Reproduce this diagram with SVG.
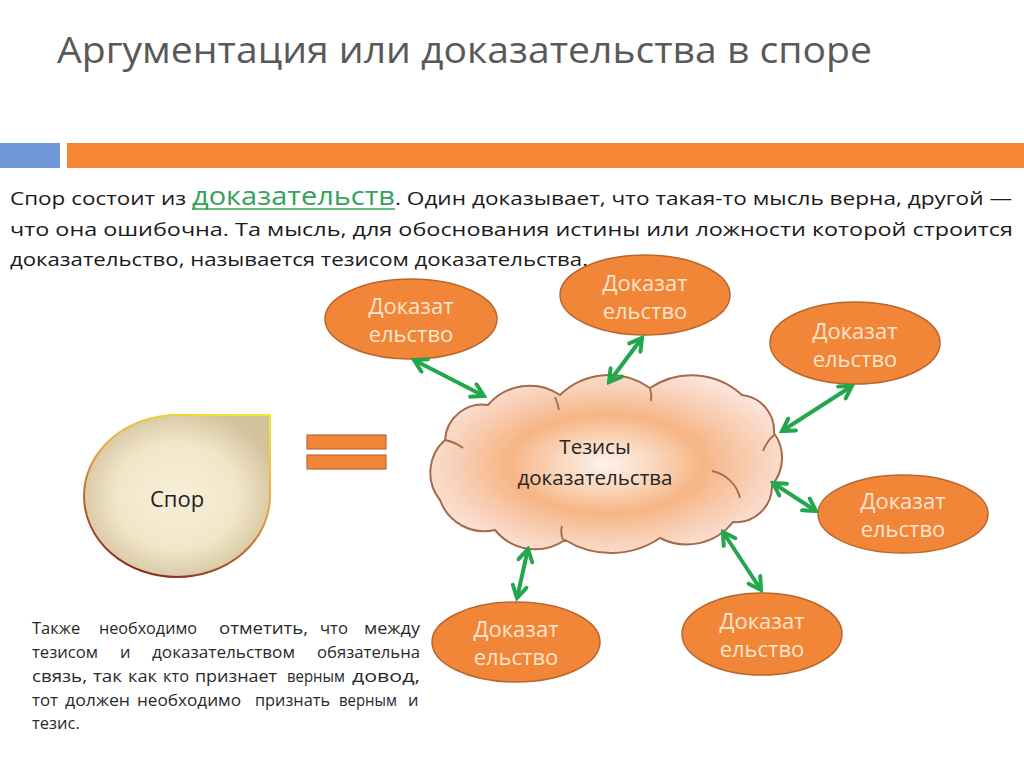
<svg xmlns="http://www.w3.org/2000/svg" width="1024" height="768" viewBox="0 0 1024 768">
<defs>
<style>
.t{font-family:"Open Sans","Liberation Sans",sans-serif}
.ell{fill:#f28638;stroke:#b9652f;stroke-width:1.5}
.elt{font-family:"Open Sans","Liberation Sans",sans-serif;font-size:22px;fill:#fde5d0;text-anchor:middle}
.arr{stroke:#22a74c;stroke-width:4;fill:none;marker-start:url(#ah);marker-end:url(#ah)}
.para{font-family:"Open Sans","Liberation Sans",sans-serif;font-size:19px;fill:#1a1a1a}
.low{font-family:"Open Sans","Liberation Sans",sans-serif;font-size:16.5px;fill:#2a2a2a}
.eq{fill:#f28638;stroke:#b86a3a;stroke-width:1.2}
.curl{fill:none;stroke:#a5694c;stroke-width:1.8}
</style>
<marker id="ah" markerUnits="userSpaceOnUse" markerWidth="18" markerHeight="18" viewBox="0 0 18 18" refX="15" refY="9" orient="auto-start-reverse">
<path d="M3,2 L15,9 L3,16" fill="none" stroke="#22a74c" stroke-width="4" stroke-linecap="round" stroke-linejoin="miter"/>
</marker>
<radialGradient id="drop" cx="0.5" cy="0.5" r="0.55">
<stop offset="0" stop-color="#f8efd8"/>
<stop offset="0.6" stop-color="#f2e6c8"/>
<stop offset="1" stop-color="#d2c39d"/>
</radialGradient>
<linearGradient id="dropStroke" x1="0.8" y1="0" x2="0.4" y2="1">
<stop offset="0" stop-color="#f2e23c"/>
<stop offset="0.45" stop-color="#e8a040"/>
<stop offset="1" stop-color="#8a2a20"/>
</linearGradient>
<radialGradient id="cloud" cx="0.5" cy="0.5" r="0.55">
<stop offset="0" stop-color="#fdf2ee"/>
<stop offset="0.25" stop-color="#fad7bd"/>
<stop offset="0.5" stop-color="#f6b584"/>
<stop offset="0.75" stop-color="#f8cdb2"/>
<stop offset="1" stop-color="#fbe4da"/>
</radialGradient>
</defs>
<rect width="1024" height="768" fill="#ffffff"/>

<g id="title">
<text class="t" x="57" y="63" font-size="36" fill="#595959" textLength="815" lengthAdjust="spacingAndGlyphs">Аргументация или доказательства в споре</text>
</g>
<g id="bars">
<rect x="0" y="143" width="60" height="25" fill="#6f96d6"/>
<rect x="67" y="143" width="957" height="25" fill="#f58634"/>
</g>

<g id="paragraph">
<text class="para" x="10" y="205" textLength="176" lengthAdjust="spacingAndGlyphs">Спор состоит из</text>
<text x="192" y="205" font-family="Open Sans, Liberation Sans, sans-serif" font-size="25" fill="#36a15b" textLength="203" lengthAdjust="spacingAndGlyphs">доказательств</text>
<line x1="192" y1="209" x2="395" y2="209" stroke="#36a15b" stroke-width="1.5"/>
<text class="para" x="395" y="205" textLength="617" lengthAdjust="spacingAndGlyphs">. Один доказывает, что такая-то мысль верна, другой —</text>
<text class="para" x="10" y="236" textLength="1003" lengthAdjust="spacingAndGlyphs">что она ошибочна. Та мысль, для обоснования истины или ложности которой строится</text>
<text class="para" x="10" y="266" textLength="578" lengthAdjust="spacingAndGlyphs">доказательство, называется тезисом доказательства.</text>
</g>

<g id="spor">
<path d="M270,415 L270,496 A93,81 0 1 1 177,415 Z" fill="url(#drop)" stroke="url(#dropStroke)" stroke-width="2"/>
<text class="t" x="177" y="507" font-size="22" fill="#1e1e1e" text-anchor="middle">Спор</text>
</g>

<g id="equals">
<rect class="eq" x="307" y="435" width="79" height="14"/>
<rect class="eq" x="307" y="455" width="79" height="14"/>
</g>

<g id="thesis">
<path d="M440,500 A43.5,43.5 0 0 1 445,440 A37.5,37.5 0 0 1 488,405 A54.6,54.6 0 0 1 560,395 A71,71 0 0 1 650,388 A74,74 0 0 1 742,395 A36,36 0 0 1 774,433 A42,42 0 0 1 772,485 A36,36 0 0 1 733,522 A58.6,58.6 0 0 1 660,538 A87.6,87.6 0 0 1 565,540 A52,52 0 0 1 495,530 A47,47 0 0 1 440,500 Z" fill="url(#cloud)" stroke="#a5694c" stroke-width="2"/>
<path class="curl" d="M712,471 A36,36 0 0 1 740,498"/>
<path class="curl" d="M763,451 Q 767,441 774,435"/>
<path class="curl" d="M555,397 Q 558,404 559,410"/>
<path class="curl" d="M650,388 Q 652,395 651,401"/>
<path class="curl" d="M445,440 Q 455,442 463,448"/>
<path class="curl" d="M563,540 Q 560,532 562,526"/>
<text class="t" x="595" y="454" font-size="20.5" fill="#262626" text-anchor="middle">Тезисы</text>
<text class="t" x="595" y="485" font-size="20.5" fill="#262626" text-anchor="middle">доказательства</text>
</g>

<g id="proof1">
<ellipse class="ell" cx="411" cy="319" rx="86" ry="40"/>
<text class="elt" x="411" y="314">Доказат</text>
<text class="elt" x="411" y="342">ельство</text>
</g>
<g id="proof2">
<ellipse class="ell" cx="645" cy="295" rx="85" ry="40"/>
<text class="elt" x="645" y="291">Доказат</text>
<text class="elt" x="645" y="319">ельство</text>
</g>
<g id="proof3">
<ellipse class="ell" cx="855" cy="343" rx="85" ry="41"/>
<text class="elt" x="855" y="339">Доказат</text>
<text class="elt" x="855" y="367">ельство</text>
</g>
<g id="proof4">
<ellipse class="ell" cx="903" cy="514" rx="85" ry="39"/>
<text class="elt" x="903" y="509">Доказат</text>
<text class="elt" x="903" y="537">ельство</text>
</g>
<g id="proof5">
<ellipse class="ell" cx="516" cy="642" rx="84" ry="40"/>
<text class="elt" x="516" y="637">Доказат</text>
<text class="elt" x="516" y="665">ельство</text>
</g>
<g id="proof6">
<ellipse class="ell" cx="762" cy="634" rx="80" ry="41"/>
<text class="elt" x="762" y="629">Доказат</text>
<text class="elt" x="762" y="657">ельство</text>
</g>

<g id="connectors">
<line class="arr" x1="414" y1="360" x2="484" y2="396"/>
<line class="arr" x1="642" y1="338" x2="609" y2="382"/>
<line class="arr" x1="852" y1="386" x2="782" y2="431"/>
<line class="arr" x1="773" y1="483" x2="816" y2="511"/>
<line class="arr" x1="528" y1="549" x2="517" y2="598"/>
<line class="arr" x1="723" y1="532" x2="761" y2="590"/>
</g>

<g id="note">
<text class="low" y="634" lengthAdjust="spacingAndGlyphs"><tspan x="32">Также</tspan></text>
<text class="low" x="99" y="634" textLength="98" lengthAdjust="spacingAndGlyphs">необходимо</text>
<text class="low" x="219" y="634" textLength="89" lengthAdjust="spacingAndGlyphs">отметить,</text>
<text class="low" x="320" y="634" textLength="28" lengthAdjust="spacingAndGlyphs">что</text>
<text class="low" x="364" y="634" textLength="56" lengthAdjust="spacingAndGlyphs">между</text>
<text class="low" x="32" y="658" textLength="66" lengthAdjust="spacingAndGlyphs">тезисом</text>
<text class="low" x="120" y="658">и</text>
<text class="low" x="152" y="658" textLength="143" lengthAdjust="spacingAndGlyphs">доказательством</text>
<text class="low" x="317" y="658" textLength="103" lengthAdjust="spacingAndGlyphs">обязательна</text>
<text class="low" x="32" y="682" textLength="55" lengthAdjust="spacingAndGlyphs">связь,</text>
<text class="low" x="93" y="682" textLength="29" lengthAdjust="spacingAndGlyphs">так</text>
<text class="low" x="128" y="682" textLength="29" lengthAdjust="spacingAndGlyphs">как</text>
<text class="low" x="163" y="682" textLength="26" lengthAdjust="spacingAndGlyphs">кто</text>
<text class="low" x="195" y="682" textLength="82" lengthAdjust="spacingAndGlyphs">признает</text>
<text class="low" x="287" y="682" textLength="58" lengthAdjust="spacingAndGlyphs">верным</text>
<text class="low" x="352" y="682" textLength="68" lengthAdjust="spacingAndGlyphs">довод,</text>
<text class="low" x="32" y="706" textLength="26" lengthAdjust="spacingAndGlyphs">тот</text>
<text class="low" x="65" y="706" textLength="65" lengthAdjust="spacingAndGlyphs">должен</text>
<text class="low" x="137" y="706" textLength="104" lengthAdjust="spacingAndGlyphs">необходимо</text>
<text class="low" x="255" y="706" textLength="75" lengthAdjust="spacingAndGlyphs">признать</text>
<text class="low" x="339" y="706" textLength="58" lengthAdjust="spacingAndGlyphs">верным</text>
<text class="low" x="408" y="706">и</text>
<text class="low" x="32" y="729">тезис.</text>
</g>
</svg>
